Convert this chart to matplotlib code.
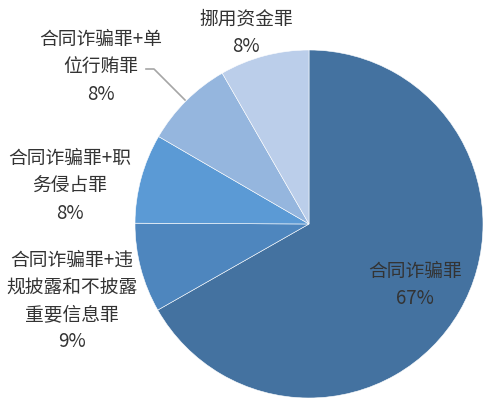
import matplotlib
matplotlib.use('Agg')
import matplotlib.pyplot as plt

plt.rcParams['font.family'] = ['Noto Sans CJK SC', 'DejaVu Sans']

# data
categories = ['合同诈骗罪', '合同诈骗罪+违\n规披露和不披露\n重要信息罪', '合同诈骗罪+职\n务侵占罪',
              '合同诈骗罪+单\n位行贿罪', '挪用资金罪']
shares = [66.7, 8.3, 8.3, 8.3, 8.3]
pct_labels = ['67%', '9%', '8%', '8%', '8%']
colors = ['#4472A0', '#4E86BE', '#5B9AD5', '#95B6DE', '#BBCEEA']

W, H = 490, 406
fig = plt.figure(figsize=(4.9, 4.06), dpi=100)
ax = fig.add_axes([0, 0, 1, 1])
ax.axis('off')

ax.pie(shares, colors=colors, startangle=90, counterclock=False,
       center=(309, H - 225), radius=174,
       wedgeprops=dict(edgecolor='white', linewidth=0.4))
ax.set_xlim(0, W)
ax.set_ylim(0, H)
ax.set_aspect('equal')

# label positions (pixel coords, top-left origin)
label_pos = [(415, 285), (72, 301), (70, 186), (101, 67), (246, 33)]
for cat, pct, (x, y) in zip(categories, pct_labels, label_pos):
    ax.text(x, H - y, cat + '\n' + pct, ha='center', va='center',
            fontsize=13.5, color='#333333', linespacing=1.38,
            fontweight='light')

# leader line for 单位行贿罪
ax.plot([146, 154, 185], [H - 70, H - 70, H - 101], color='#A6A6A6', lw=1.2)

fig.savefig('out.png', dpi=100, facecolor='white')
